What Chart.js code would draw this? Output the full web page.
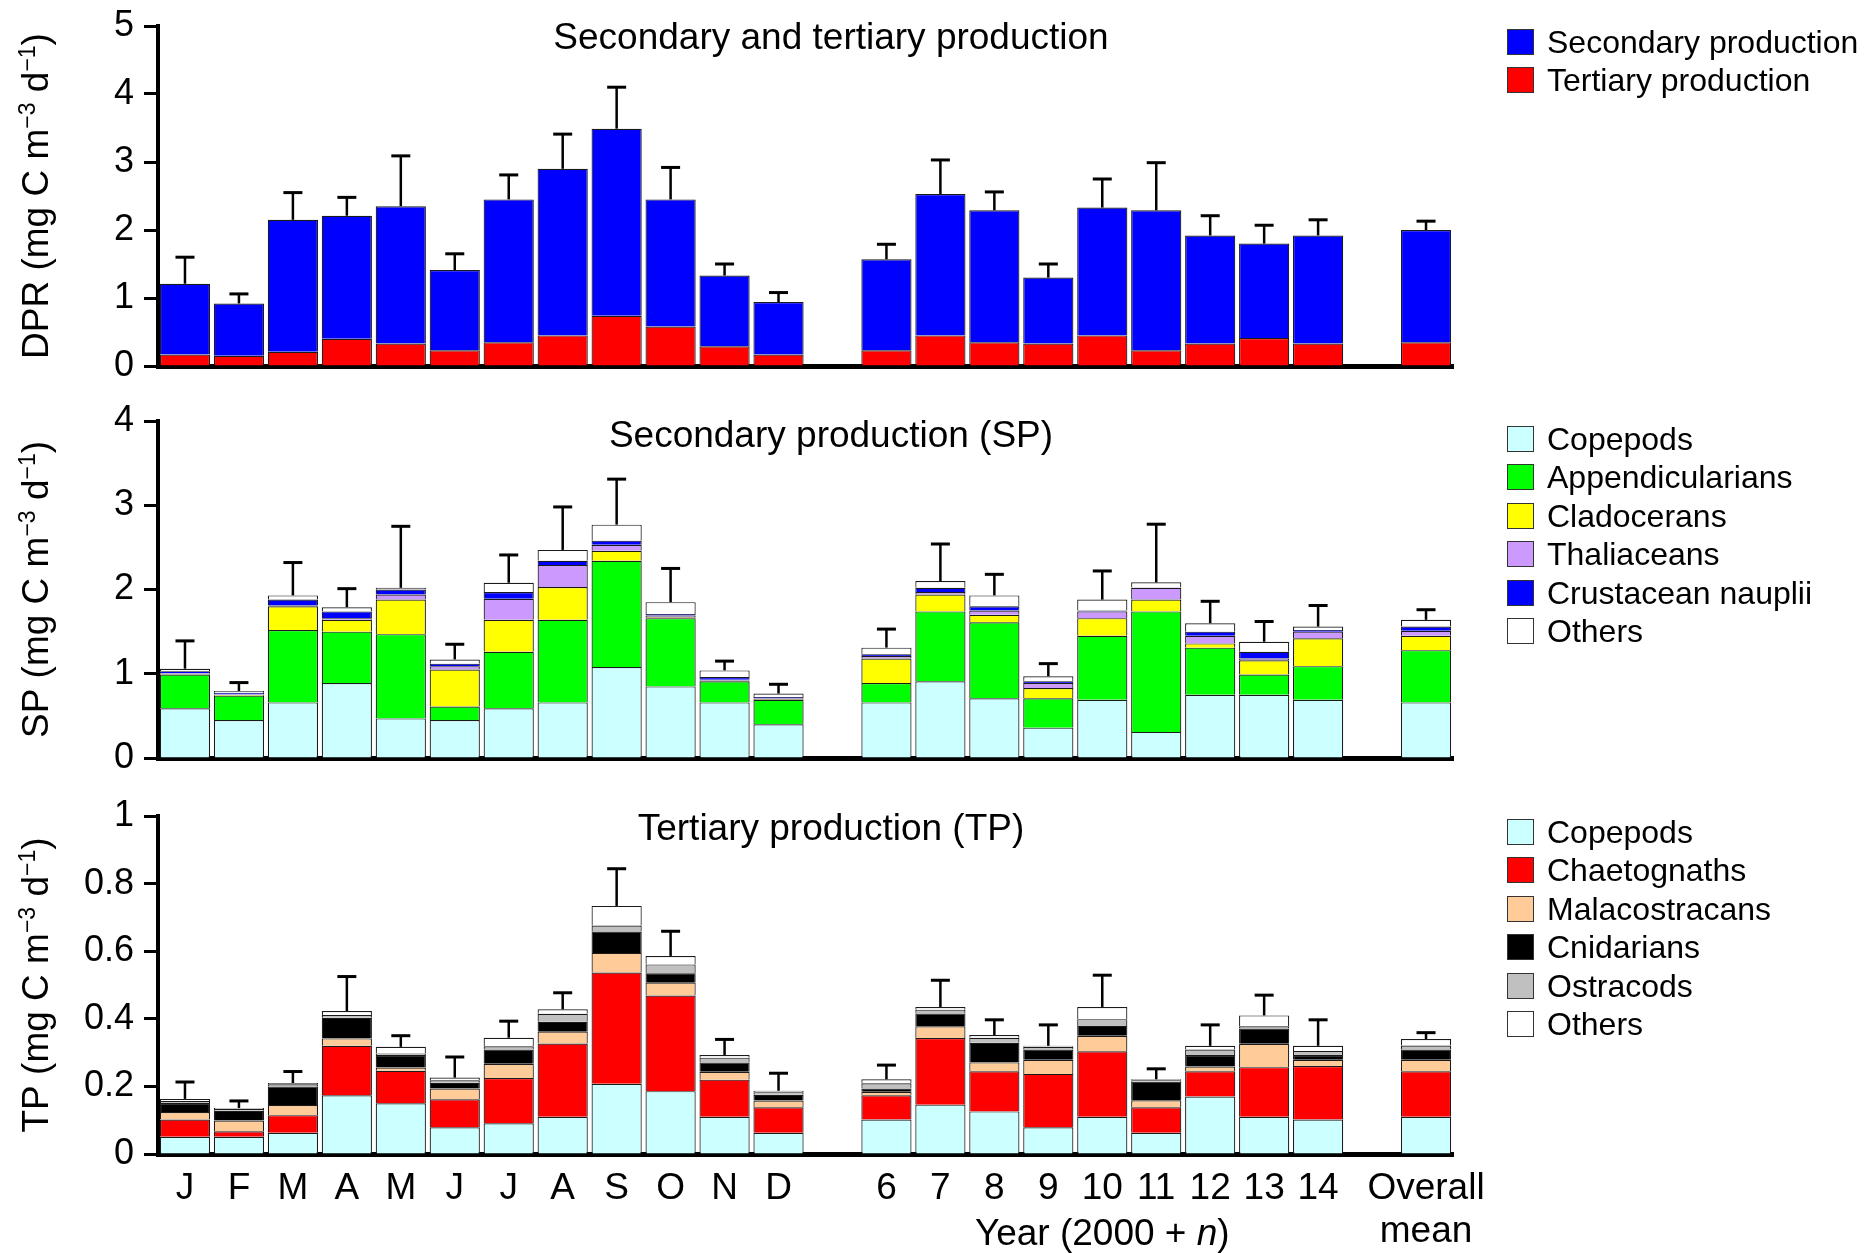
<!DOCTYPE html>
<html>
<head>
<meta charset="utf-8">
<script src="https://cdn.jsdelivr.net/npm/chart.js@4.4.1/dist/chart.umd.min.js"></script>
<style>
body{margin:0;background:#fff;}
#wrap{position:relative;width:1875px;height:1253px;overflow:hidden;font-family:"Liberation Sans",Arial,sans-serif;}
canvas{position:absolute;left:0;}
.legend{position:absolute;left:1507px;top:0;}
.legend div{position:absolute;left:0;height:27px;white-space:nowrap;font-size:32px;line-height:27px;color:#000;}
.legend .box{position:absolute;left:0;top:0;width:25px;height:24px;border:1.5px solid #333;}
.legend .txt{position:absolute;left:40px;top:0;}
</style>
</head>
<body>
<div id="wrap">
  <canvas id="c1" width="1875" height="395" style="top:0px"></canvas>
  <canvas id="c2" width="1875" height="395" style="top:395px"></canvas>
  <canvas id="c3" width="1875" height="463" style="top:790px"></canvas>
</div>
<script>
// categories: 12 months, 9 years (2000+n), overall mean
const months=['J','F','M','A','M','J','J','A','S','O','N','D'];
const years=['6','7','8','9','10','11','12','13','14'];
const overallLabel=['Overall','mean'];

// --- DPR panel (stacked: tertiary at bottom, secondary on top) ---
const dprTertiary=[0.17,0.15,0.21,0.40,0.33,0.23,0.35,0.45,0.74,0.58,0.29,0.17, 0.23,0.45,0.35,0.33,0.45,0.23,0.33,0.41,0.33, 0.35];
const dprSecondary=[1.04,0.77,1.94,1.81,2.02,1.18,2.10,2.45,2.75,1.87,1.04,0.77, 1.34,2.08,1.94,0.97,1.88,2.06,1.59,1.39,1.59, 1.65];
const dprError=[0.39,0.14,0.40,0.27,0.74,0.24,0.36,0.51,0.61,0.47,0.17,0.14, 0.22,0.50,0.27,0.20,0.42,0.70,0.29,0.27,0.23, 0.13];

// --- SP panel ---
const spCopepods=[0.59,0.45,0.66,0.89,0.47,0.45,0.59,0.66,1.08,0.85,0.66,0.40, 0.66,0.91,0.71,0.36,0.69,0.31,0.75,0.75,0.69, 0.66];
const spAppendicularians=[0.40,0.29,0.86,0.61,1.00,0.16,0.67,0.98,1.26,0.81,0.25,0.29, 0.23,0.83,0.90,0.35,0.76,1.43,0.56,0.24,0.40, 0.62];
const spCladocerans=[0.01,0.01,0.28,0.14,0.41,0.44,0.38,0.39,0.12,0.01,0.01,0.01, 0.29,0.20,0.09,0.12,0.21,0.14,0.05,0.17,0.33, 0.17];
const spThaliaceans=[0.01,0.005,0.01,0.02,0.06,0.04,0.25,0.26,0.07,0.02,0.01,0.005, 0.03,0.03,0.05,0.06,0.08,0.14,0.09,0.02,0.08, 0.06];
const spNauplii=[0.02,0.02,0.07,0.08,0.06,0.03,0.08,0.05,0.05,0.02,0.03,0.02, 0.02,0.05,0.05,0.02,0.01,0.005,0.05,0.08,0.02, 0.05];
const spOthers=[0.03,0.02,0.05,0.05,0.02,0.05,0.11,0.13,0.19,0.14,0.08,0.04, 0.08,0.08,0.13,0.06,0.13,0.06,0.10,0.12,0.04, 0.08];
const spError=[0.33,0.10,0.39,0.22,0.73,0.18,0.33,0.51,0.54,0.40,0.11,0.11, 0.22,0.44,0.25,0.15,0.34,0.69,0.26,0.24,0.25, 0.12];

// --- TP panel ---
const tpCopepods=[0.051,0.051,0.063,0.174,0.150,0.079,0.091,0.110,0.208,0.186,0.110,0.063, 0.102,0.146,0.126,0.079,0.110,0.063,0.170,0.110,0.102, 0.110];
const tpChaetognaths=[0.051,0.016,0.052,0.146,0.096,0.083,0.134,0.217,0.329,0.283,0.110,0.075, 0.072,0.197,0.119,0.158,0.194,0.075,0.075,0.147,0.158, 0.135];
const tpMalacostracans=[0.022,0.032,0.030,0.022,0.010,0.032,0.042,0.035,0.058,0.038,0.023,0.020, 0.010,0.035,0.026,0.042,0.046,0.021,0.014,0.069,0.019, 0.034];
const tpCnidarians=[0.027,0.029,0.055,0.061,0.037,0.017,0.042,0.029,0.063,0.028,0.028,0.017, 0.010,0.038,0.058,0.030,0.029,0.055,0.034,0.045,0.014, 0.030];
const tpOstracods=[0.006,0.005,0.006,0.008,0.004,0.007,0.010,0.024,0.018,0.026,0.014,0.008, 0.015,0.011,0.015,0.008,0.020,0.004,0.016,0.007,0.012, 0.012];
const tpOthers=[0.006,0.003,0.004,0.012,0.020,0.008,0.025,0.013,0.058,0.025,0.008,0.004, 0.012,0.008,0.008,0.003,0.036,0.003,0.011,0.032,0.015, 0.019];
const tpError=[0.050,0.021,0.034,0.102,0.033,0.061,0.049,0.049,0.110,0.073,0.046,0.052, 0.042,0.079,0.045,0.062,0.094,0.031,0.062,0.060,0.077, 0.019];

// colours
const C={sec:'#0000ff',ter:'#ff0000',cop:'#ccffff',app:'#00ff00',cla:'#ffff00',tha:'#cc99ff',nau:'#0000ff',oth:'#ffffff',
         cha:'#ff0000',mal:'#ffcc99',cni:'#000000',ost:'#c0c0c0'};
const FAMILY='"Liberation Sans", Arial, sans-serif';
Chart.defaults.font.family=FAMILY;
Chart.defaults.color='#000';

// empty slot after months and after years
function withGaps(a){ return [...a.slice(0,12), null, ...a.slice(12,21), null, a[21]]; }
const xLabels=withGaps([...months,...years,overallLabel]).map(l=>l===null?'':l);

function ds(label,data,color){
  return {label, data:withGaps(data), backgroundColor:color, borderColor:'#1a1a1a', borderWidth:1.2,
          barPercentage:0.93, categoryPercentage:1, stack:'s'};
}

function fontFor(p,size){
  const s=p[1]===1?Math.round(size*0.62):size;
  return (p[1]==='i'?'italic ':'')+s+'px '+FAMILY;
}
function drawRich(ctx,parts,size,x,y){
  let w=0;
  parts.forEach(p=>{ ctx.font=fontFor(p,size); w+=ctx.measureText(p[0]).width; });
  let cx=x-w/2;
  parts.forEach(p=>{
    ctx.font=fontFor(p,size);
    ctx.fillText(p[0], cx, p[1]===1 ? y-size*0.36 : y);
    cx+=ctx.measureText(p[0]).width;
  });
}

function decor(cfg){
  return {
    id:'decor',
    afterDatasetsDraw(chart){
      const ctx=chart.ctx, ys=chart.scales.y, sets=chart.data.datasets;
      const top=chart.getDatasetMeta(sets.length-1);
      ctx.save(); ctx.strokeStyle='#000';
      cfg.errors.forEach((e,i)=>{
        if(e==null) return;
        let total=0; sets.forEach(d=>{ total+=d.data[i]||0; });
        const x=top.data[i].x, y0=ys.getPixelForValue(total), y1=ys.getPixelForValue(total+e);
        ctx.lineWidth=2.5; ctx.beginPath(); ctx.moveTo(x,y0); ctx.lineTo(x,y1); ctx.stroke();
        ctx.lineWidth=3; ctx.beginPath(); ctx.moveTo(x-9.5,y1); ctx.lineTo(x+9.5,y1); ctx.stroke();
      });
      ctx.restore();
    },
    afterDraw(chart){
      const ctx=chart.ctx, a=chart.chartArea;
      ctx.save(); ctx.fillStyle='#000'; ctx.textBaseline='alphabetic'; ctx.textAlign='left';
      // panel title
      drawRich(ctx,[[cfg.title,0]],37,a.left+673,a.top+cfg.titleDy);
      // y axis title, rotated
      ctx.save(); ctx.translate(48,(a.top+a.bottom)/2); ctx.rotate(-Math.PI/2);
      drawRich(ctx,cfg.yLabel,37,0,0);
      ctx.restore();
      if(cfg.year){
        const x=chart.scales.x.getPixelForValue(xLabels.indexOf('10'));
        drawRich(ctx,[['Year (2000 + ',0],['n','i'],[')',0]],37,x,1245-790);
      }
      ctx.restore();
    }
  };
}

function makePanel(id,datasets,o){
  return new Chart(document.getElementById(id),{
    type:'bar',
    data:{labels:xLabels,datasets},
    options:{
      responsive:false, animation:false, devicePixelRatio:1,
      layout:{padding:{left:0,right:422,top:26,bottom:0},autoPadding:false},
      plugins:{legend:{display:false},tooltip:{enabled:false},title:{display:false}},
      scales:{
        x:{stacked:true, z:1, grid:{display:false,drawTicks:false},
           border:{display:true,color:'#000',width:5},
           ticks:{display:o.showX, autoSkip:false, maxRotation:0, minRotation:0, padding:13, color:'#000', font:{size:37,lineHeight:1.17}},
           afterFit(s){ s.height=o.xHeight; s.paddingLeft=0; s.paddingRight=0; }},
        y:{stacked:true, z:1, min:0, max:o.yMax,
           grid:{display:true,drawOnChartArea:false,drawTicks:true,tickLength:14,tickWidth:3,tickColor:'#000'},
           border:{display:true,color:'#000',width:4},
           ticks:{stepSize:o.step, padding:10, color:'#000', font:{size:36}, callback:o.fmt},
           afterFit(s){ s.width=158; s.paddingTop=0; s.paddingBottom=0; }}
      }
    },
    plugins:[decor(o)]
  });
}

makePanel('c1',[
  ds('Tertiary production',dprTertiary,C.ter),
  ds('Secondary production',dprSecondary,C.sec)
],{yMax:5, step:1, fmt:v=>String(Math.round(v)), xHeight:29, showX:false,
   title:'Secondary and tertiary production', titleDy:23, errors:withGaps(dprError),
   yLabel:[['DPR (mg C m',0],['\u22123',1],[' d',0],['\u22121',1],[')',0]]});

makePanel('c2',[
  ds('Copepods',spCopepods,C.cop),
  ds('Appendicularians',spAppendicularians,C.app),
  ds('Cladocerans',spCladocerans,C.cla),
  ds('Thaliaceans',spThaliaceans,C.tha),
  ds('Crustacean nauplii',spNauplii,C.nau),
  ds('Others',spOthers,C.oth)
],{yMax:4, step:0.5, fmt:v=>{const k=Math.round(v*2); return k%2===0?String(k/2):'';}, xHeight:32, showX:false,
   title:'Secondary production (SP)', titleDy:26, errors:withGaps(spError),
   yLabel:[['SP (mg C m',0],['\u22123',1],[' d',0],['\u22121',1],[')',0]]});

makePanel('c3',[
  ds('Copepods',tpCopepods,C.cop),
  ds('Chaetognaths',tpChaetognaths,C.cha),
  ds('Malacostracans',tpMalacostracans,C.mal),
  ds('Cnidarians',tpCnidarians,C.cni),
  ds('Ostracods',tpOstracods,C.ost),
  ds('Others',tpOthers,C.oth)
],{yMax:1, step:0.1, fmt:v=>{const k=Math.round(v*10); return k%2===0?String(k/10):'';}, xHeight:99, showX:true, year:true,
   title:'Tertiary production (TP)', titleDy:24, errors:withGaps(tpError),
   yLabel:[['TP (mg C m',0],['\u22123',1],[' d',0],['\u22121',1],[')',0]]});

// legends
const wrap=document.getElementById('wrap');
function legend(items,top,step){
  const box=document.createElement('div'); box.className='legend';
  items.forEach((it,k)=>{
    const row=document.createElement('div');
    row.style.top=(top+k*step-13.5)+'px';
    row.innerHTML=`<span class="box" style="background:${it[1]}"></span><span class="txt">${it[0]}</span>`;
    box.appendChild(row);
  });
  wrap.appendChild(box);
}
legend([['Secondary production',C.sec],['Tertiary production',C.ter]],42.7,37.6);
legend([['Copepods',C.cop],['Appendicularians',C.app],['Cladocerans',C.cla],['Thaliaceans',C.tha],['Crustacean nauplii',C.nau],['Others',C.oth]],439,38.5);
legend([['Copepods',C.cop],['Chaetognaths',C.cha],['Malacostracans',C.mal],['Cnidarians',C.cni],['Ostracods',C.ost],['Others',C.oth]],832.3,38.5);
</script>
</body>
</html>
